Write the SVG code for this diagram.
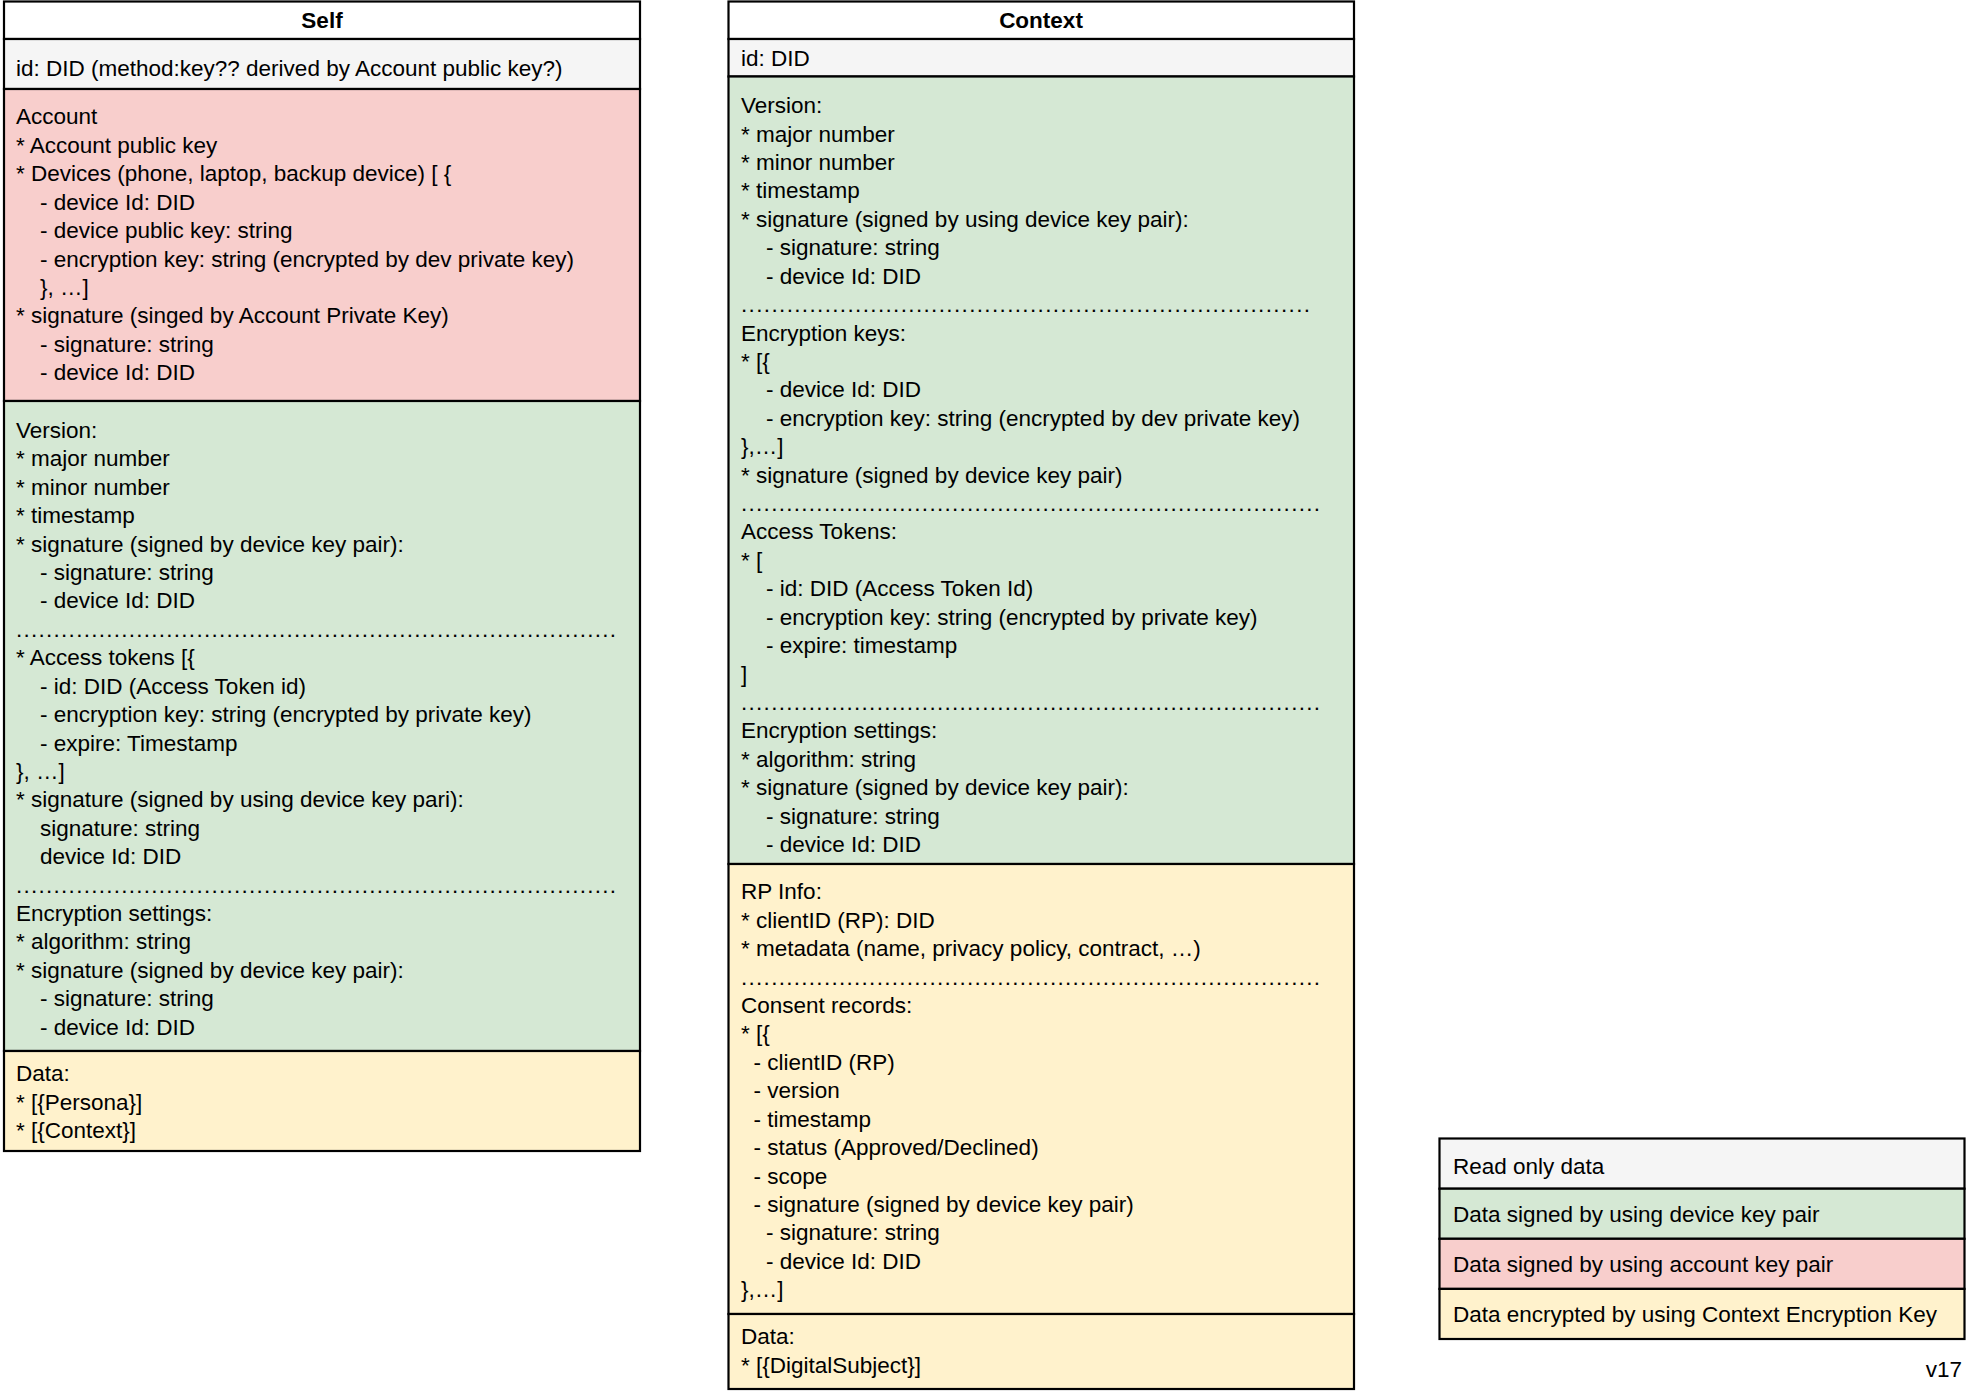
<svg xmlns="http://www.w3.org/2000/svg" width="1966" height="1391" viewBox="0 0 1966 1391">
<style>
.t{font-family:"Liberation Sans",Arial,Helvetica,sans-serif;font-size:22.5px;fill:#000}
.b{font-weight:bold;text-anchor:middle}
.box{stroke:#000;stroke-width:2.2}
.w{fill:#ffffff}.g{fill:#f5f5f5}.gr{fill:#d5e8d4}.p{fill:#f8cecc}.y{fill:#fff2cc}
</style>
<rect x="0" y="0" width="1966" height="1391" fill="#ffffff"/>
<g id="self">
<rect class="box w" x="4" y="1.5" width="636" height="37.5"/>
<rect class="box g" x="4" y="39" width="636" height="50"/>
<rect class="box p" x="4" y="89" width="636" height="312"/>
<rect class="box gr" x="4" y="401" width="636" height="650"/>
<rect class="box y" x="4" y="1051" width="636" height="100"/>
<text class="t b" x="322" y="28">Self</text>
<text class="t" x="16" y="75.5">id: DID (method:key?? derived by Account public key?)</text>
<text class="t" y="124.4">
<tspan x="16">Account</tspan>
<tspan x="16" dy="28.42">* Account public key</tspan>
<tspan x="16" dy="28.42">* Devices (phone, laptop, backup device) [ {</tspan>
<tspan x="40" dy="28.42">- device Id: DID</tspan>
<tspan x="40" dy="28.42">- device public key: string</tspan>
<tspan x="40" dy="28.42">- encryption key: string (encrypted by dev private key)</tspan>
<tspan x="40" dy="28.42">}, …]</tspan>
<tspan x="16" dy="28.42">* signature (singed by Account Private Key)</tspan>
<tspan x="40" dy="28.42">- signature: string</tspan>
<tspan x="40" dy="28.42">- device Id: DID</tspan>
</text>
<text class="t" y="437.9">
<tspan x="16">Version:</tspan>
<tspan x="16" dy="28.42">* major number</tspan>
<tspan x="16" dy="28.42">* minor number</tspan>
<tspan x="16" dy="28.42">* timestamp</tspan>
<tspan x="16" dy="28.42">* signature (signed by device key pair):</tspan>
<tspan x="40" dy="28.42">- signature: string</tspan>
<tspan x="40" dy="28.42">- device Id: DID</tspan>
</text>
<text class="t" x="16" y="636.8" textLength="600" lengthAdjust="spacing">................................................................................</text>
<text class="t" y="665.3">
<tspan x="16">* Access tokens [{</tspan>
<tspan x="40" dy="28.42">- id: DID (Access Token id)</tspan>
<tspan x="40" dy="28.42">- encryption key: string (encrypted by private key)</tspan>
<tspan x="40" dy="28.42">- expire: Timestamp</tspan>
<tspan x="16" dy="28.42">}, …]</tspan>
<tspan x="16" dy="28.42">* signature (signed by using device key pari):</tspan>
<tspan x="40" dy="28.42">signature: string</tspan>
<tspan x="40" dy="28.42">device Id: DID</tspan>
</text>
<text class="t" x="16" y="892.6" textLength="600" lengthAdjust="spacing">................................................................................</text>
<text class="t" y="921">
<tspan x="16">Encryption settings:</tspan>
<tspan x="16" dy="28.42">* algorithm: string</tspan>
<tspan x="16" dy="28.42">* signature (signed by device key pair):</tspan>
<tspan x="40" dy="28.42">- signature: string</tspan>
<tspan x="40" dy="28.42">- device Id: DID</tspan>
</text>
<text class="t" y="1081.1">
<tspan x="16">Data:</tspan>
<tspan x="16" dy="28.42">* [{Persona}]</tspan>
<tspan x="16" dy="28.42">* [{Context}]</tspan>
</text>
</g>
<g id="context">
<rect class="box w" x="728.5" y="1.5" width="625.5" height="37.5"/>
<rect class="box g" x="728.5" y="39" width="625.5" height="37.5"/>
<rect class="box gr" x="728.5" y="76.5" width="625.5" height="787.5"/>
<rect class="box y" x="728.5" y="864" width="625.5" height="450"/>
<rect class="box y" x="728.5" y="1314" width="625.5" height="75"/>
<text class="t b" x="1041" y="28">Context</text>
<text class="t" x="741" y="65.5">id: DID</text>
<text class="t" y="113.1">
<tspan x="741">Version:</tspan>
<tspan x="741" dy="28.42">* major number</tspan>
<tspan x="741" dy="28.42">* minor number</tspan>
<tspan x="741" dy="28.42">* timestamp</tspan>
<tspan x="741" dy="28.42">* signature (signed by using device key pair):</tspan>
<tspan x="766" dy="28.42">- signature: string</tspan>
<tspan x="766" dy="28.42">- device Id: DID</tspan>
</text>
<text class="t" x="741" y="312" textLength="569" lengthAdjust="spacing">...........................................................................</text>
<text class="t" y="340.5">
<tspan x="741">Encryption keys:</tspan>
<tspan x="741" dy="28.42">* [{</tspan>
<tspan x="766" dy="28.42">- device Id: DID</tspan>
<tspan x="766" dy="28.42">- encryption key: string (encrypted by dev private key)</tspan>
<tspan x="741" dy="28.42">},…]</tspan>
<tspan x="741" dy="28.42">* signature (signed by device key pair)</tspan>
</text>
<text class="t" x="741" y="511" textLength="579" lengthAdjust="spacing">.............................................................................</text>
<text class="t" y="539.4">
<tspan x="741">Access Tokens:</tspan>
<tspan x="741" dy="28.42">* [</tspan>
<tspan x="766" dy="28.42">- id: DID (Access Token Id)</tspan>
<tspan x="766" dy="28.42">- encryption key: string (encrypted by private key)</tspan>
<tspan x="766" dy="28.42">- expire: timestamp</tspan>
<tspan x="741" dy="28.42">]</tspan>
</text>
<text class="t" x="741" y="709.9" textLength="579" lengthAdjust="spacing">.............................................................................</text>
<text class="t" y="738.3">
<tspan x="741">Encryption settings:</tspan>
<tspan x="741" dy="28.42">* algorithm: string</tspan>
<tspan x="741" dy="28.42">* signature (signed by device key pair):</tspan>
<tspan x="766" dy="28.42">- signature: string</tspan>
<tspan x="766" dy="28.42">- device Id: DID</tspan>
</text>
<text class="t" y="899.3">
<tspan x="741">RP Info:</tspan>
<tspan x="741" dy="28.42">* clientID (RP): DID</tspan>
<tspan x="741" dy="28.42">* metadata (name, privacy policy, contract, …)</tspan>
</text>
<text class="t" x="741" y="984.6" textLength="579" lengthAdjust="spacing">.............................................................................</text>
<text class="t" y="1013">
<tspan x="741">Consent records:</tspan>
<tspan x="741" dy="28.42">* [{</tspan>
<tspan x="753.5" dy="28.42">- clientID (RP)</tspan>
<tspan x="753.5" dy="28.42">- version</tspan>
<tspan x="753.5" dy="28.42">- timestamp</tspan>
<tspan x="753.5" dy="28.42">- status (Approved/Declined)</tspan>
<tspan x="753.5" dy="28.42">- scope</tspan>
<tspan x="753.5" dy="28.42">- signature (signed by device key pair)</tspan>
<tspan x="766" dy="28.42">- signature: string</tspan>
<tspan x="766" dy="28.42">- device Id: DID</tspan>
<tspan x="741" dy="28.42">},…]</tspan>
</text>
<text class="t" y="1344.3">
<tspan x="741">Data:</tspan>
<tspan x="741" dy="28.42">* [{DigitalSubject}]</tspan>
</text>
</g>
<g id="legend">
<rect class="box g" x="1439.5" y="1138.5" width="525" height="50.2"/>
<rect class="box gr" x="1439.5" y="1188.7" width="525" height="50.1"/>
<rect class="box p" x="1439.5" y="1238.8" width="525" height="50.1"/>
<rect class="box y" x="1439.5" y="1288.9" width="525" height="50.1"/>
<text class="t" x="1453" y="1174">Read only data</text>
<text class="t" x="1453" y="1221.5">Data signed by using device key pair</text>
<text class="t" x="1453" y="1271.6">Data signed by using account key pair</text>
<text class="t" x="1453" y="1321.8">Data encrypted by using Context Encryption Key</text>
</g>
<g id="version">
<text class="t" x="1962" y="1377" text-anchor="end">v17</text>
</g>
<g id="connectors"/>
</svg>
